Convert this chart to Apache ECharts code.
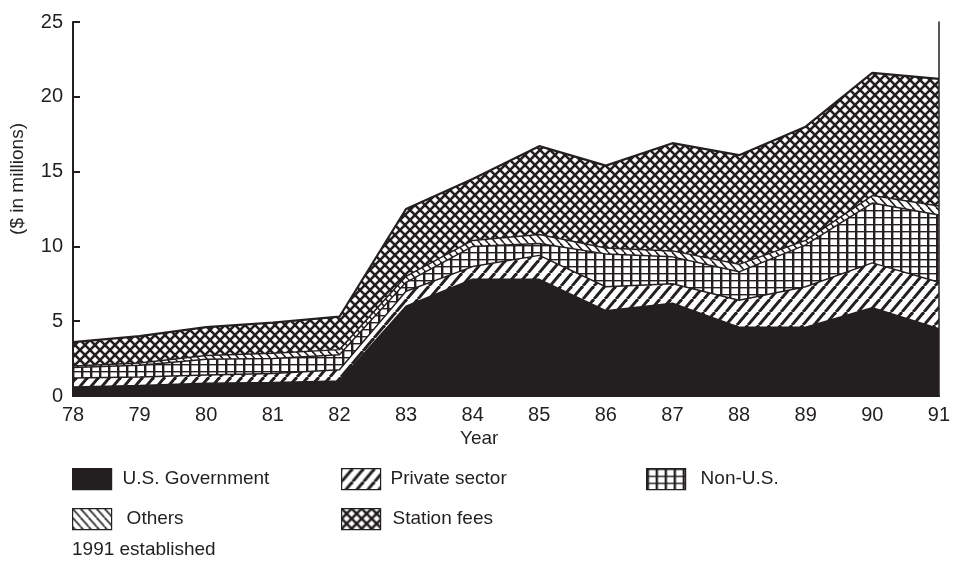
<!DOCTYPE html>
<html><head><meta charset="utf-8">
<script src="https://cdn.jsdelivr.net/npm/echarts@6/dist/echarts.min.js"></script>
<style>html,body{margin:0;padding:0;background:#fff}#c{width:953px;height:564px}</style>
</head><body><div id="c"></div>
<script>
const years = ['78','79','80','81','82','83','84','85','86','87','88','89','90','91'];
const usGovernment = [0.6, 0.7, 0.85, 0.9, 1.0, 6.0, 7.8, 7.8, 5.7, 6.2, 4.6, 4.6, 5.9, 4.5];
const privateSector = [0.6, 0.57, 0.55, 0.6, 0.75, 1.0, 0.85, 1.6, 1.6, 1.3, 1.8, 2.7, 3.0, 3.1];
const nonUS = [0.7, 0.78, 1.05, 1.0, 1.0, 0.6, 1.35, 0.8, 2.2, 1.8, 1.9, 2.8, 4.0, 4.5];
const others = [0.1, 0.15, 0.25, 0.35, 0.35, 0.4, 0.4, 0.6, 0.4, 0.4, 0.5, 0.3, 0.5, 0.6];
const stationFees = [1.6, 1.8, 1.9, 2.05, 2.2, 4.5, 4.1, 5.9, 5.5, 7.2, 7.3, 7.6, 8.2, 8.5];
const yTicks = {min: 0, max: 25, interval: 5};

const INK = '#231f20';
const FONT = "'Liberation Sans', Arial, Helvetica, sans-serif";

function tile(w, h, draw) {
  const c = document.createElement('canvas');
  c.width = w; c.height = h;
  const ctx = c.getContext('2d');
  ctx.fillStyle = '#fff'; ctx.fillRect(0, 0, w, h);
  ctx.strokeStyle = INK; ctx.fillStyle = INK;
  draw(ctx, w, h);
  return {image: c, repeat: 'repeat'};
}
const patSolid = INK;
const patPrivate = tile(11, 13, (ctx, w, h) => {
  ctx.lineWidth = 3.0;
  for (const k of [-w, 0, w]) { ctx.beginPath(); ctx.moveTo(k, h); ctx.lineTo(k + w, 0); ctx.stroke(); }
});
const patNonUS = tile(9, 7, (ctx, w, h) => {
  ctx.fillRect(0, 0, 2.4, h);
  ctx.fillRect(0, 0, w, 1.4);
});
const patOthers = tile(8, 9, (ctx, w, h) => {
  ctx.lineWidth = 1.6;
  for (const k of [-w, 0, w]) { ctx.beginPath(); ctx.moveTo(k, 0); ctx.lineTo(k + w, h); ctx.stroke(); }
});
const patStation = tile(10, 10, (ctx, w, h) => {
  ctx.lineWidth = 2.6;
  for (const k of [-w, 0, w]) {
    ctx.beginPath(); ctx.moveTo(k, h); ctx.lineTo(k + w, 0); ctx.stroke();
    ctx.beginPath(); ctx.moveTo(k, 0); ctx.lineTo(k + w, h); ctx.stroke();
  }
});

function mkSeries(name, data, pat, lw) {
  return {
    name, type: 'line', stack: 'total', data,
    symbol: 'none', showSymbol: false, silent: true,
    lineStyle: {color: INK, width: lw || 1.5},
    itemStyle: {color: pat},
    areaStyle: {color: pat, opacity: 1}
  };
}

function mkLegend(name, left, top, gap) {
  return {
    left, top, padding: 0, icon: 'rect', itemWidth: 39, itemHeight: 21,
    selectedMode: false,
    textStyle: {fontSize: 19, color: INK, fontFamily: FONT, padding: [0, 0, 0, gap || 6]},
    itemStyle: {borderColor: INK, borderWidth: 1.2},
    data: [name]
  };
}

const chart = echarts.init(document.getElementById('c'), null, {renderer: 'canvas'});
chart.setOption({
  animation: false,
  backgroundColor: '#fff',
  textStyle: {fontFamily: FONT},
  grid: {left: 73, right: 10, top: 22, bottom: 168},
  xAxis: [{
    type: 'category', data: years, boundaryGap: false, z: 10,
    axisLine: {lineStyle: {color: INK, width: 2}},
    axisTick: {show: false},
    axisLabel: {fontSize: 20, color: INK, margin: 9, fontFamily: FONT},
    splitLine: {show: false}
  }, {
    type: 'category', data: years, boundaryGap: false, position: 'top', z: 10,
    axisLine: {lineStyle: {color: INK, width: 1.5}},
    axisTick: {show: false}, axisLabel: {show: false}, splitLine: {show: false}
  }],
  yAxis: [{
    type: 'value', min: yTicks.min, max: yTicks.max, interval: yTicks.interval, z: 10,
    axisLine: {show: true, lineStyle: {color: INK, width: 2}},
    axisTick: {show: true, inside: true, length: 7, lineStyle: {color: INK, width: 2}},
    axisLabel: {fontSize: 20, color: INK, margin: 10, fontFamily: FONT},
    splitLine: {show: false}
  }, {
    type: 'value', min: yTicks.min, max: yTicks.max, interval: yTicks.interval, position: 'right', z: 10,
    axisLine: {show: true, lineStyle: {color: INK, width: 1.5}},
    axisTick: {show: false}, axisLabel: {show: false}, splitLine: {show: false}
  }],
  legend: [
    mkLegend('U.S. Government', 72, 468, 6),
    mkLegend('Private sector', 341, 468, 5),
    mkLegend('Non-U.S.', 646, 468, 10),
    mkLegend('Others', 72, 508, 10),
    mkLegend('Station fees', 341, 508, 7)
  ],
  graphic: [
    {type: 'text', left: 8, top: 123, rotation: Math.PI / 2,
     style: {text: '($ in millions)', fontSize: 19, fill: INK, fontFamily: FONT}},
    {type: 'text', left: 460, top: 429,
     style: {text: 'Year', fontSize: 19, fill: INK, fontFamily: FONT}},
    {type: 'text', left: 72, top: 540,
     style: {text: '1991 established', fontSize: 19, fill: INK, fontFamily: FONT}}
  ],
  series: [
    mkSeries('U.S. Government', usGovernment, patSolid),
    mkSeries('Private sector', privateSector, patPrivate),
    mkSeries('Non-U.S.', nonUS, patNonUS),
    mkSeries('Others', others, patOthers),
    mkSeries('Station fees', stationFees, patStation, 2.2)
  ]
});
</script></body></html>
